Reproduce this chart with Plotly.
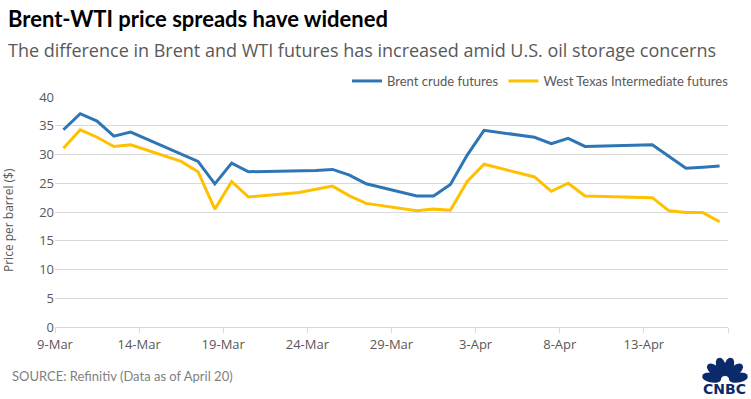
import plotly.graph_objects as go
import numpy as np

dates = ["2020-03-09", "2020-03-10", "2020-03-11", "2020-03-12", "2020-03-13",
         "2020-03-16", "2020-03-17", "2020-03-18", "2020-03-19", "2020-03-20",
         "2020-03-23", "2020-03-24", "2020-03-25", "2020-03-26", "2020-03-27",
         "2020-03-30", "2020-03-31", "2020-04-01", "2020-04-02", "2020-04-03",
         "2020-04-06", "2020-04-07", "2020-04-08", "2020-04-09",
         "2020-04-13", "2020-04-14", "2020-04-15", "2020-04-16", "2020-04-17"]
brent = [34.3, 37.1, 35.8, 33.2, 33.9,
         30.1, 28.8, 24.9, 28.5, 27.0,
         27.1, 27.2, 27.4, 26.4, 24.9,
         22.8, 22.8, 24.8, 29.9, 34.2,
         33.0, 31.9, 32.8, 31.4,
         31.7, 29.6, 27.6, 27.8, 28.0]
wti = [31.1, 34.3, 33.0, 31.4, 31.7,
       28.8, 27.0, 20.5, 25.3, 22.6,
       23.4, 24.0, 24.5, 22.8, 21.5,
       20.2, 20.5, 20.3, 25.3, 28.3,
       26.1, 23.6, 25.0, 22.8,
       22.5, 20.2, 19.9, 19.9, 18.3]
tick_dates = ["2020-03-09", "2020-03-14", "2020-03-19", "2020-03-24", "2020-03-29",
              "2020-04-03", "2020-04-08", "2020-04-13", "2020-04-18"]
tick_labels = ["9-Mar", "14-Mar", "19-Mar", "24-Mar", "29-Mar", "3-Apr", "8-Apr", "13-Apr", ""]
y_ticks = [0, 5, 10, 15, 20, 25, 30, 35, 40]

# Excel date axis centres each point within its day
xpts = [d + " 12:00" for d in dates]

W, H = 751, 399
L, R, T, B = 55, 23, 97, 72
PW, PH = W - L - R, H - T - B

def px(x):
    return (x - L) / PW

def py(y):
    return (H - B - y) / PH

fig = go.Figure()
fig.add_trace(go.Scatter(x=xpts, y=brent, mode="lines", name="Brent crude futures",
                         line=dict(color="#2E75B6", width=3)))
fig.add_trace(go.Scatter(x=xpts, y=wti, mode="lines", name="West Texas Intermediate futures",
                         line=dict(color="#FFC000", width=3)))

grey = "#595959"
fig.update_xaxes(type="date", range=["2020-03-09", "2020-04-18"],
                 tickvals=tick_dates, ticktext=tick_labels,
                 showgrid=False, showline=True, linecolor="#d9d9d9", linewidth=1,
                 ticks="outside", ticklen=5, tickcolor="#d9d9d9",
                 tickfont=dict(family="Open Sans", size=13, color=grey))
fig.update_yaxes(range=[0, 40], tickvals=y_ticks, showgrid=True, gridcolor="#d9d9d9",
                 gridwidth=1, zeroline=False, showline=False, ticks="",
                 tickfont=dict(family="Open Sans", size=13, color=grey))

annotations = [
    dict(text="<b>Brent-WTI price spreads have widened</b>", x=px(6), y=py(18),
         xanchor="left", yanchor="middle",
         font=dict(family="Lato", size=22, color="#000000")),
    dict(text="The difference in Brent and WTI futures has increased amid U.S. oil storage concerns",
         x=px(6), y=py(50), xanchor="left", yanchor="middle",
         font=dict(family="Open Sans", size=18, color="#595959")),
    dict(text="Price per barrel ($)", x=px(8), y=py(220), textangle=-90,
         xanchor="center", yanchor="middle",
         font=dict(family="Open Sans", size=12, color=grey)),
    dict(text="SOURCE: Refinitiv (Data as of April 20)", x=px(10), y=py(376),
         xanchor="left", yanchor="middle",
         font=dict(family="Lato", size=13, color="#7f7f7f")),
    dict(text="<b>CNBC</b>", x=px(724), y=py(389), xanchor="center", yanchor="middle",
         font=dict(family="DejaVu Sans", size=14, color="#0b2a6b")),
]
for a in annotations:
    a.update(xref="paper", yref="paper", showarrow=False)

# CNBC peacock (approximate)
shapes = []
cx, cy = 725, 380
navy = "#0b2a6b"
for ang in np.linspace(170, 10, 6):
    a = np.radians(ang)
    ux, uy = np.cos(a), -np.sin(a)
    vx, vy = -uy, ux
    pts = []
    for t in np.linspace(0, np.pi, 14):
        r = 4 + 19 * (1 - np.cos(t)) / 2
        w = 4.8 * np.sin(t) ** 0.8
        pts.append((cx + ux * r + vx * w, cy + uy * r + vy * w))
    for t in np.linspace(np.pi, 0, 14):
        r = 4 + 19 * (1 - np.cos(t)) / 2
        w = -4.8 * np.sin(t) ** 0.8
        pts.append((cx + ux * r + vx * w, cy + uy * r + vy * w))
    path = "M " + " L ".join(f"{px(x):.5f},{py(y):.5f}" for x, y in pts) + " Z"
    shapes.append(dict(type="path", path=path, xref="paper", yref="paper",
                       fillcolor=navy, line=dict(width=0)))

fig.update_layout(
    width=W, height=H,
    margin=dict(l=L, r=R, t=T, b=B, pad=0),
    paper_bgcolor="white", plot_bgcolor="white",
    showlegend=True,
    legend=dict(orientation="h", x=px(734), xanchor="right", y=py(81), yanchor="middle",
                font=dict(family="Lato", size=13, color=grey),
                itemwidth=30, tracegroupgap=0, bgcolor="rgba(0,0,0,0)"),
    annotations=annotations,
    shapes=shapes,
)
fig.write_html("out.html", config={"displayModeBar": False},
               post_script="document.body.style.margin='0px';")
